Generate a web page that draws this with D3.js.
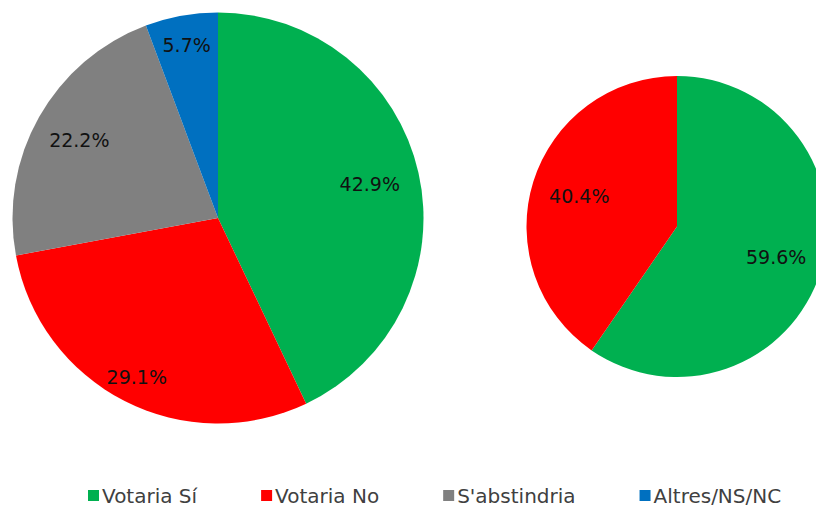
<!DOCTYPE html>
<html lang="ca">
<head>
<meta charset="UTF-8">
<title>Intenció de vot</title>
<script src="https://d3js.org/d3.v7.min.js"></script>
<style>
  body { margin: 0; background: #fff; }
  svg { display: block; font-family: "DejaVu Sans", sans-serif; }
</style>
</head>
<body>
<svg width="816" height="506"></svg>
<script>
// categories and values (percentages)
const categories = ["Votaria Sí", "Votaria No", "S'abstindria", "Altres/NS/NC"];
const allValues = [42.9, 29.1, 22.2, 5.7];
const decidedCats = ["Votaria Sí", "Votaria No"];
const decidedValues = [59.6, 40.4];
const colors = ["#00B050", "#FF0000", "#808080", "#0070C0"];

const svg = d3.select("svg");
const color = d3.scaleOrdinal().domain(categories).range(colors);

// label distance from centre, as share of radius (Excel best-fit look)
const leftLabelR = [0.757, 0.87, 0.775, 0.855];
const rightLabelR = [0.69, 0.68];

function drawPie(cats, vals, cx, cy, r, labelR) {
    const pie = d3.pie().sort(null).value(d => d.v);
    const arcs = pie(cats.map((c, i) => ({ c: c, v: vals[i] })));
    const arc = d3.arc().innerRadius(0).outerRadius(r);

    const g = svg.append("g").attr("transform", `translate(${cx},${cy})`);

    g.selectAll("path")
        .data(arcs)
        .enter()
        .append("path")
            .attr("d", arc)
            .attr("fill", d => color(d.data.c));

    g.selectAll("text")
        .data(arcs)
        .enter()
        .append("text")
            .attr("transform", (d, i) => {
                const lr = r * labelR[i];
                const a = (d.startAngle + d.endAngle) / 2;
                return `translate(${lr * Math.sin(a)},${-lr * Math.cos(a)})`;
            })
            .attr("text-anchor", "middle")
            .attr("dominant-baseline", "central")
            .attr("font-size", "19px")
            .attr("fill", "#111")
            .text(d => d.data.v.toFixed(1) + "%");
}

drawPie(categories, allValues, 218, 218, 205.5, leftLabelR);
drawPie(decidedCats, decidedValues, 677, 226.5, 150.5, rightLabelR);

// legend, laid out left to right by text width
const legend = svg.append("g").attr("transform", "translate(88,490)");
let x = 0;
categories.forEach(c => {
    const item = legend.append("g").attr("transform", `translate(${x},0)`);
    item.append("rect")
        .attr("width", 11)
        .attr("height", 11)
        .attr("fill", color(c));
    const t = item.append("text")
        .attr("x", 14)
        .attr("y", 5.5)
        .attr("dominant-baseline", "central")
        .attr("font-size", "20px")
        .attr("fill", "#404040")
        .text(c);
    x += 14 + t.node().getComputedTextLength() + 64;
});
</script>
</body>
</html>
